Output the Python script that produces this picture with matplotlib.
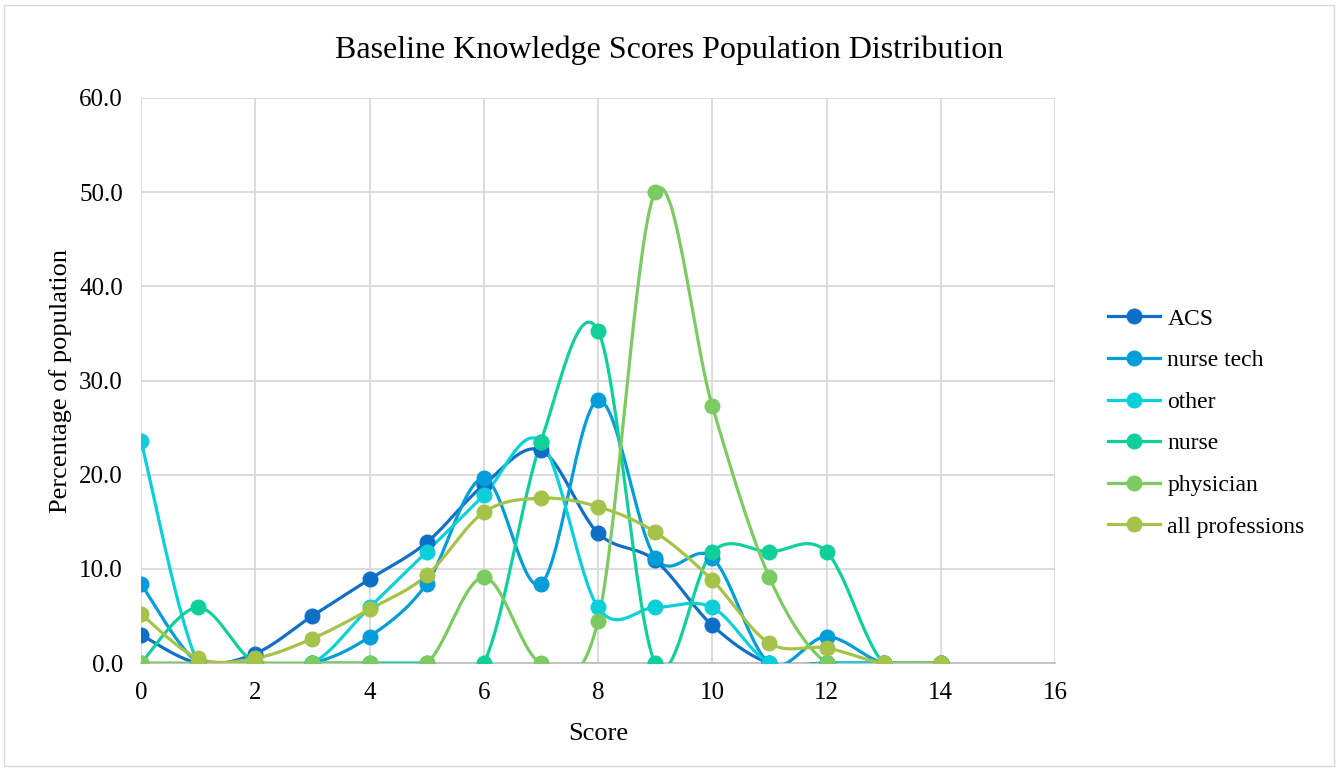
import matplotlib
matplotlib.use("Agg")
import matplotlib.pyplot as plt
from matplotlib.patches import Rectangle
import numpy as np

plt.rcParams["font.family"] = ["Liberation Serif", "DejaVu Serif"]

scores = list(range(15))
acs = [3.0, 0.0, 1.0, 5.0, 8.9, 12.8, 18.9, 22.6, 13.8, 10.9, 4.0, 0.0, 0.0, 0.0, 0.0]
nurse_tech = [8.4, 0.0, 0.0, 0.0, 2.8, 8.4, 19.6, 8.4, 27.9, 11.2, 11.2, 0.0, 2.8, 0.0, 0.0]
other = [23.6, 0.0, 0.0, 0.0, 5.9, 11.8, 17.8, 23.5, 5.9, 5.9, 5.9, 0.0, 0.0, 0.0, 0.0]
nurse = [0.0, 5.9, 0.0, 0.0, 0.0, 0.0, 0.0, 23.5, 35.3, 0.0, 11.8, 11.8, 11.8, 0.0, 0.0]
physician = [0.0, 0.0, 0.0, 0.0, 0.0, 0.0, 9.1, 0.0, 4.5, 50.0, 27.3, 9.1, 0.0, 0.0, 0.0]
all_prof = [5.2, 0.5, 0.5, 2.6, 5.7, 9.3, 16.0, 17.5, 16.6, 13.9, 8.8, 2.1, 1.6, 0.0, 0.0]

series = [
    ("ACS", acs, "#0F6FC6"),
    ("nurse tech", nurse_tech, "#009DD9"),
    ("other", other, "#0BD0D9"),
    ("nurse", nurse, "#10CF9B"),
    ("physician", physician, "#7CCA62"),
    ("all professions", all_prof, "#A5C249"),
]


def smooth(x, y, n=30):
    # Catmull-Rom style smoothing like Excel's "smoothed line"
    x = np.asarray(x, float)
    y = np.asarray(y, float)
    px = np.concatenate([[x[0]], x, [x[-1]]])
    py = np.concatenate([[y[0]], y, [y[-1]]])
    t = np.linspace(0, 1, n)[:, None]
    xs, ys = [], []
    for i in range(1, len(px) - 2):
        p0 = np.array([px[i - 1], py[i - 1]])
        p1 = np.array([px[i], py[i]])
        p2 = np.array([px[i + 1], py[i + 1]])
        p3 = np.array([px[i + 2], py[i + 2]])
        c1 = p1 + (p2 - p0) / 6
        c2 = p2 - (p3 - p1) / 6
        b = ((1 - t) ** 3) * p1 + 3 * ((1 - t) ** 2) * t * c1 + 3 * (1 - t) * t ** 2 * c2 + t ** 3 * p2
        xs.append(b[:, 0])
        ys.append(b[:, 1])
    return np.concatenate(xs), np.concatenate(ys)


fig = plt.figure(figsize=(13.38, 7.69), dpi=100)
ax = fig.add_axes([0.1054, 0.1378, 0.6831, 0.7348])

for name, vals, color in series:
    sx, sy = smooth(scores, vals)
    ax.plot(sx, sy, color=color, lw=2.3, solid_capstyle="round", zorder=3)
    ax.plot(scores, vals, "o", color=color, ms=10.5, zorder=4)
    ax.plot([], [], "-o", color=color, lw=2.3, ms=10.5, label=name)

ax.set_xlim(0, 16)
ax.set_ylim(0, 60)
ax.set_xticks(range(0, 17, 2))
ax.set_yticks(range(0, 61, 10))
ax.set_yticklabels([f"{v:.1f}" for v in range(0, 61, 10)])
ax.tick_params(length=0, labelsize=18, colors="#000000")
ax.tick_params(axis="x", pad=14)
ax.tick_params(axis="y", pad=13)
ax.grid(True, color="#d9d9d9", lw=1.3)
ax.set_axisbelow(True)
for s in ["top", "right", "left"]:
    ax.spines[s].set_visible(False)
ax.spines["bottom"].set_color("#bfbfbf")
ax.spines["bottom"].set_linewidth(1.3)

ax.set_xlabel("Score", fontsize=19, labelpad=13)
ax.set_ylabel("Percentage of population", fontsize=19, labelpad=5)
fig.text(0.5, 0.935, "Baseline Knowledge Scores Population Distribution",
         ha="center", va="center", fontsize=23)

ax.legend(loc="center left", bbox_to_anchor=(1.035, 0.425), frameon=False,
          fontsize=17, handlelength=2.2, labelspacing=0.85, handletextpad=0.3)

fig.patches.append(Rectangle((0.003, 0.004), 0.994, 0.99, transform=fig.transFigure,
                             fill=False, edgecolor="#d9d9d9", lw=1))

fig.savefig("out.png", dpi=100)
